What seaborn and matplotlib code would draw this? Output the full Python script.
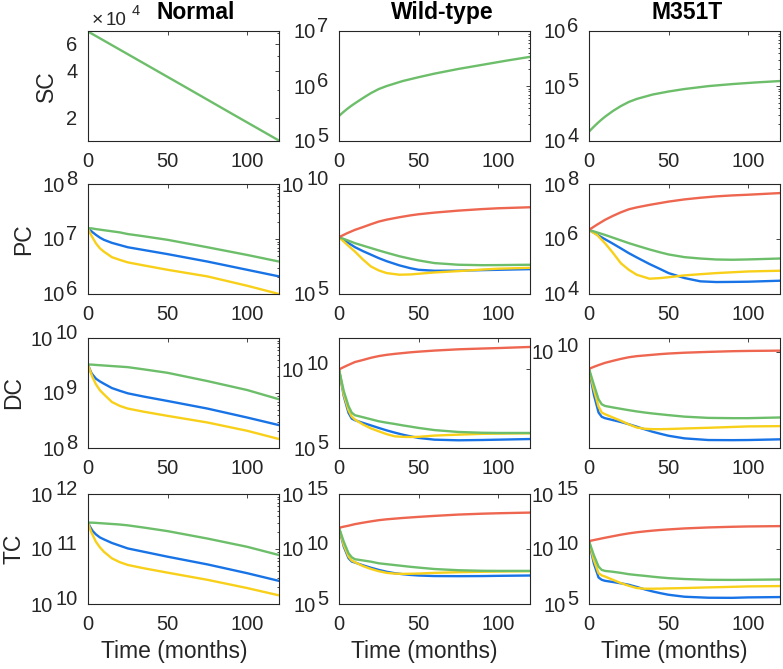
import numpy as np
import pandas as pd
import matplotlib
matplotlib.use("Agg")
import matplotlib.pyplot as plt
import matplotlib.ticker as mticker
from matplotlib.transforms import offset_copy, blended_transform_factory
import seaborn as sns

sns.set_theme(style="white")
plt.rcParams["font.family"] = ["Liberation Sans", "DejaVu Sans"]

# ---------------- data (log10 of cell counts) ----------------
col_titles = ["Normal", "Wild-type", "M351T"]
row_labels = ["SC", "PC", "DC", "TC"]
xlabel_text = "Time (months)"

# SC
sc_norm_t = [0, 30, 60, 90, 120]
sc_norm_green = [4.857, 4.681, 4.505, 4.328, 4.152]
sc_mut_t = [0, 2.5, 5, 7.5, 10, 15, 20, 25, 30, 40, 50, 60, 75, 90, 105, 120]
sc_wt_green = [5.455, 5.52, 5.58, 5.635, 5.685, 5.78, 5.87, 5.945, 6.00, 6.09, 6.16, 6.225, 6.31, 6.385, 6.46, 6.53]
sc_m_green = [4.17, 4.245, 4.315, 4.38, 4.44, 4.545, 4.635, 4.71, 4.765, 4.845, 4.90, 4.945, 4.998, 5.035, 5.065, 5.09]

# Normal column, PC/DC/TC
norm_t = [0, 1, 2, 3, 5, 7.5, 10, 15, 20, 25, 35, 50, 75, 100, 120]
pc_norm_green = [7.196, 7.195, 7.194, 7.19, 7.18, 7.17, 7.16, 7.14, 7.12, 7.09, 7.05, 6.985, 6.85, 6.71, 6.59]
pc_norm_blue = [7.196, 7.17, 7.145, 7.12, 7.075, 7.025, 6.985, 6.93, 6.89, 6.85, 6.80, 6.725, 6.59, 6.44, 6.32]
pc_norm_yellow = [7.196, 7.13, 7.07, 7.02, 6.92, 6.83, 6.77, 6.67, 6.62, 6.575, 6.52, 6.44, 6.32, 6.15, 6.0]

dc_norm_green = [9.518, 9.517, 9.516, 9.515, 9.51, 9.505, 9.50, 9.49, 9.48, 9.47, 9.43, 9.367, 9.217, 9.054, 8.886]
dc_norm_blue = [9.518, 9.44, 9.37, 9.33, 9.26, 9.21, 9.169, 9.09, 9.04, 8.994, 8.935, 8.855, 8.717, 8.554, 8.416]
dc_norm_yellow = [9.518, 9.43, 9.35, 9.277, 9.157, 9.05, 8.976, 8.837, 8.765, 8.717, 8.66, 8.584, 8.464, 8.313, 8.163]

tc_norm_green = [11.48, 11.48, 11.479, 11.478, 11.475, 11.47, 11.465, 11.455, 11.445, 11.43, 11.39, 11.325, 11.19, 11.04, 10.89]
tc_norm_blue = [11.48, 11.42, 11.37, 11.325, 11.265, 11.21, 11.175, 11.11, 11.06, 11.01, 10.95, 10.86, 10.72, 10.56, 10.42]
tc_norm_yellow = [11.48, 11.39, 11.31, 11.25, 11.13, 11.03, 10.95, 10.83, 10.76, 10.71, 10.65, 10.57, 10.44, 10.29, 10.157]

# PC mutants
pc_wt_t = [0, 5, 10, 15, 20, 25, 30, 38, 45, 50, 60, 75, 90, 100, 120]
pc_wt_red = [7.583, 7.76, 7.915, 8.04, 8.17, 8.293, 8.38, 8.49, 8.575, 8.625, 8.70, 8.79, 8.86, 8.897, 8.943]
pc_wt_green = [7.583, 7.45, 7.311, 7.20, 7.09, 6.98, 6.875, 6.715, 6.60, 6.526, 6.405, 6.33, 6.31, 6.314, 6.33]
pc_wt_blue = [7.583, 7.36, 7.13, 6.95, 6.79, 6.63, 6.49, 6.30, 6.17, 6.10, 6.057, 6.06, 6.085, 6.10, 6.13]
pc_wt_yellow = [7.583, 7.25, 6.93, 6.57, 6.254, 6.07, 5.95, 5.876, 5.89, 5.92, 5.98, 6.04, 6.11, 6.15, 6.19]

pc_m_t = [0, 5, 10, 15, 20, 25, 30, 38, 45, 50, 60, 70, 80, 90, 100, 120]
pc_m_red = [6.332, 6.52, 6.695, 6.84, 6.97, 7.08, 7.15, 7.24, 7.31, 7.36, 7.44, 7.50, 7.55, 7.585, 7.61, 7.67]
pc_m_green = [6.332, 6.24, 6.15, 6.05, 5.95, 5.85, 5.76, 5.62, 5.51, 5.438, 5.34, 5.29, 5.255, 5.245, 5.257, 5.29]
pc_m_blue = [6.332, 6.16, 5.994, 5.83, 5.66, 5.486, 5.33, 5.09, 4.90, 4.76, 4.58, 4.46, 4.435, 4.44, 4.447, 4.483]
pc_m_yellow = [6.332, 6.15, 5.85, 5.50, 5.12, 4.88, 4.70, 4.556, 4.58, 4.61, 4.677, 4.72, 4.76, 4.79, 4.82, 4.846]

# DC / TC mutants
dct_t = [0, 3, 6, 8, 10, 15, 20, 25, 30, 35, 40, 45, 50, 60, 75, 90, 100, 120]
dc_wt_red = [10.0, 10.15, 10.29, 10.38, 10.47, 10.60, 10.74, 10.85, 10.93, 10.99, 11.04, 11.09, 11.13, 11.20, 11.28, 11.33, 11.36, 11.43]
dc_wt_green = [10.0, 8.62, 7.66, 7.25, 7.085, 6.96, 6.83, 6.70, 6.61, 6.53, 6.44, 6.36, 6.277, 6.14, 6.02, 5.97, 5.957, 5.957]
dc_wt_blue = [10.0, 8.30, 7.23, 6.87, 6.77, 6.60, 6.44, 6.277, 6.12, 5.98, 5.85, 5.74, 5.64, 5.53, 5.49, 5.51, 5.53, 5.57]
dc_wt_yellow = [10.0, 8.40, 7.40, 7.0, 6.81, 6.50, 6.25, 6.06, 5.88, 5.745, 5.71, 5.70, 5.71, 5.79, 5.85, 5.90, 5.915, 5.936]

dc_m_red = [8.76, 8.90, 9.03, 9.11, 9.19, 9.34, 9.48, 9.60, 9.68, 9.73, 9.78, 9.83, 9.87, 9.93, 9.99, 10.04, 10.06, 10.08]
dc_m_green = [8.76, 7.63, 6.54, 6.18, 6.06, 5.95, 5.85, 5.75, 5.66, 5.58, 5.51, 5.45, 5.39, 5.28, 5.19, 5.17, 5.17, 5.22]
dc_m_yellow = [8.76, 7.27, 6.01, 5.58, 5.46, 5.22, 4.98, 4.72, 4.49, 4.40, 4.37, 4.37, 4.38, 4.42, 4.47, 4.53, 4.57, 4.59]
dc_m_blue = [8.76, 6.90, 5.58, 5.27, 5.17, 5.03, 4.89, 4.73, 4.55, 4.36, 4.18, 4.03, 3.89, 3.70, 3.58, 3.57, 3.58, 3.63]

tc_wt_red = [11.93, 12.03, 12.12, 12.19, 12.26, 12.39, 12.51, 12.62, 12.70, 12.76, 12.82, 12.87, 12.92, 13.01, 13.13, 13.21, 13.25, 13.31]
tc_wt_green = [11.93, 10.66, 9.61, 9.25, 9.07, 8.96, 8.85, 8.70, 8.62, 8.54, 8.46, 8.38, 8.31, 8.18, 8.07, 8.02, 8.01, 8.01]
tc_wt_blue = [11.93, 10.21, 9.16, 8.86, 8.77, 8.52, 8.30, 8.10, 7.93, 7.80, 7.71, 7.64, 7.59, 7.54, 7.53, 7.54, 7.56, 7.59]
tc_wt_yellow = [11.93, 10.36, 9.31, 8.95, 8.80, 8.45, 8.19, 7.98, 7.83, 7.76, 7.74, 7.75, 7.77, 7.83, 7.89, 7.93, 7.95, 7.98]

tc_m_red = [10.72, 10.81, 10.90, 10.96, 11.02, 11.16, 11.30, 11.42, 11.52, 11.60, 11.67, 11.73, 11.78, 11.87, 11.96, 12.02, 12.05, 12.08]
tc_m_green = [10.72, 9.46, 8.40, 8.10, 8.01, 7.93, 7.83, 7.71, 7.63, 7.56, 7.48, 7.41, 7.35, 7.27, 7.20, 7.19, 7.20, 7.23]
tc_m_yellow = [10.72, 9.01, 7.80, 7.60, 7.50, 7.20, 6.90, 6.66, 6.45, 6.39, 6.39, 6.40, 6.42, 6.45, 6.51, 6.56, 6.60, 6.63]
tc_m_blue = [10.72, 8.70, 7.41, 7.20, 7.11, 7.00, 6.88, 6.75, 6.55, 6.33, 6.14, 5.98, 5.84, 5.66, 5.57, 5.56, 5.60, 5.63]

# y-axis ranges and decade ticks per panel (row-major)
ylims = [(1.41e4, 7.25e4), (1e5, 1e7), (1e4, 1e6),
         (1e6, 1e8), (1e5, 1e10), (1e4, 1e8),
         (1e8, 1e10), (1e5, 1e12), (1e3, 1e11),
         (1e10, 1e12), (1e5, 1e15), (1e5, 1e15)]
ymajors = [None, [1e5, 1e6, 1e7], [1e4, 1e5, 1e6],
           [1e6, 1e7, 1e8], [1e5, 1e10], [1e4, 1e6, 1e8],
           [1e8, 1e9, 1e10], [1e5, 1e10], [1e10],
           [1e10, 1e11, 1e12], [1e5, 1e10, 1e15], [1e5, 1e10, 1e15]]
sc_norm_ticks = [2e4, 4e4, 6e4]
sc_norm_ticklabels = ["2", "4", "6"]
sc_norm_minor = [3e4, 5e4, 7e4]

# ---------------- style ----------------
RED = "#EE6650"
BLUE = "#1873E6"
YELLOW = "#F8D01A"
GREEN = "#6DBE6A"
DARK = "#262626"
LW = 1.7
FS_TICK = 14.5
FS_LAB = 16.5

W, H = 783, 669
fig = plt.figure(figsize=(W / 100, H / 100), dpi=100)

col_left_px = [88, 339, 589]
row_top_px = [31, 184, 338, 494]
ax_w_px, ax_h_px = 191, 110

panels = [
    [(sc_norm_t, [(sc_norm_green, GREEN)]),
     (sc_mut_t, [(sc_wt_green, GREEN)]),
     (sc_mut_t, [(sc_m_green, GREEN)])],
    [(norm_t, [(pc_norm_blue, BLUE), (pc_norm_yellow, YELLOW), (pc_norm_green, GREEN)]),
     (pc_wt_t, [(pc_wt_blue, BLUE), (pc_wt_yellow, YELLOW), (pc_wt_green, GREEN), (pc_wt_red, RED)]),
     (pc_m_t, [(pc_m_blue, BLUE), (pc_m_yellow, YELLOW), (pc_m_green, GREEN), (pc_m_red, RED)])],
    [(norm_t, [(dc_norm_blue, BLUE), (dc_norm_yellow, YELLOW), (dc_norm_green, GREEN)]),
     (dct_t, [(dc_wt_blue, BLUE), (dc_wt_yellow, YELLOW), (dc_wt_green, GREEN), (dc_wt_red, RED)]),
     (dct_t, [(dc_m_blue, BLUE), (dc_m_yellow, YELLOW), (dc_m_green, GREEN), (dc_m_red, RED)])],
    [(norm_t, [(tc_norm_blue, BLUE), (tc_norm_yellow, YELLOW), (tc_norm_green, GREEN)]),
     (dct_t, [(tc_wt_blue, BLUE), (tc_wt_yellow, YELLOW), (tc_wt_green, GREEN), (tc_wt_red, RED)]),
     (dct_t, [(tc_m_blue, BLUE), (tc_m_yellow, YELLOW), (tc_m_green, GREEN), (tc_m_red, RED)])],
]


def minor_ticks(lo, hi):
    out = []
    for n in range(int(np.floor(np.log10(lo))), int(np.ceil(np.log10(hi))) + 1):
        for k in range(2, 10):
            v = k * 10.0 ** n
            if lo < v < hi:
                out.append(v)
    return out


def exp_label(ax, val):
    e = int(round(np.log10(val)))
    trans = blended_transform_factory(ax.transAxes, ax.transData)
    gap = 7.5
    ndig = len(str(e))
    digw = 0.556 * FS_TICK
    t_exp = offset_copy(trans, fig=fig, x=-gap, y=5.0, units="points")
    ax.text(0, val, str(e), transform=t_exp, ha="right", va="center_baseline",
            fontsize=FS_TICK, color=DARK, clip_on=False)
    t_base = offset_copy(trans, fig=fig, x=-gap - ndig * digw - 1.5, y=0, units="points")
    ax.text(0, val, "10", transform=t_base, ha="right", va="center_baseline",
            fontsize=FS_TICK, color=DARK, clip_on=False)


for r in range(4):
    for c in range(3):
        idx = r * 3 + c
        left = col_left_px[c] / W
        bottom = 1 - (row_top_px[r] + ax_h_px) / H
        ax = fig.add_axes([left, bottom, ax_w_px / W, ax_h_px / H])
        t, series = panels[r][c]
        for logvals, color in series:
            df = pd.DataFrame({"t": t, "v": 10.0 ** np.asarray(logvals)})
            sns.lineplot(data=df, x="t", y="v", ax=ax, color=color, lw=LW,
                         estimator=None, sort=False)
        ax.set_yscale("log")
        ax.set_xlim(0, 120)
        ax.set_ylim(*ylims[idx])
        ax.set_xticks([0, 50, 100])
        ax.set_xlabel("")
        ax.set_ylabel("")
        ax.tick_params(axis="both", which="both", direction="in", top=True, right=True,
                       colors=DARK, labelsize=FS_TICK, width=0.6)
        ax.tick_params(axis="both", which="major", length=3.0)
        ax.tick_params(axis="both", which="minor", length=1.6)
        ax.tick_params(axis="x", pad=8)
        ax.tick_params(axis="y", pad=7.5)
        for sp in ax.spines.values():
            sp.set_color(DARK)
            sp.set_linewidth(0.8)
        lo, hi = ylims[idx]
        if idx == 0:
            ax.yaxis.set_major_locator(mticker.FixedLocator(sc_norm_ticks))
            ax.yaxis.set_major_formatter(mticker.FixedFormatter(sc_norm_ticklabels))
            ax.yaxis.set_minor_locator(mticker.FixedLocator(sc_norm_minor))
            ax.yaxis.set_minor_formatter(mticker.NullFormatter())
            tr0 = offset_copy(ax.transAxes, fig=fig, x=2.5, y=4.3, units="points")
            ax.text(0, 1, "×", transform=tr0, ha="left", va="baseline",
                    fontsize=14, color=DARK, clip_on=False)
            tr1 = offset_copy(ax.transAxes, fig=fig, x=13.0, y=4.3, units="points")
            ax.text(0, 1, "10", transform=tr1, ha="left", va="baseline",
                    fontsize=13.5, color=DARK, clip_on=False)
            tr2 = offset_copy(ax.transAxes, fig=fig, x=31.5, y=11.5, units="points")
            ax.text(0, 1, "4", transform=tr2, ha="left", va="baseline",
                    fontsize=10.5, color=DARK, clip_on=False)
        else:
            majors = ymajors[idx]
            ax.yaxis.set_major_locator(mticker.FixedLocator(majors))
            ax.yaxis.set_major_formatter(mticker.NullFormatter())
            if np.log10(hi / lo) <= 2.01:
                ax.yaxis.set_minor_locator(mticker.FixedLocator(minor_ticks(lo, hi)))
            else:
                ax.yaxis.set_minor_locator(mticker.NullLocator())
            ax.yaxis.set_minor_formatter(mticker.NullFormatter())
            for m in majors:
                exp_label(ax, m)

# column titles
title_x_px = [196, 442, 687]
for x, s in zip(title_x_px, col_titles):
    fig.text(x / W, (H - 19) / H, s, ha="center", va="baseline",
             fontsize=FS_LAB, fontweight="bold", color="black")

# row labels
row_label_x_px = [46, 24, 14, 14]
for r, s in enumerate(row_labels):
    yc = row_top_px[r] + ax_h_px / 2
    fig.text(row_label_x_px[r] / W, 1 - yc / H, s, rotation=90, ha="center", va="center",
             fontsize=FS_LAB, color=DARK)

# x labels
xlabel_x_px = [174, 424, 674]
for x in xlabel_x_px:
    fig.text(x / W, 11 / H, xlabel_text, ha="center", va="baseline",
             fontsize=FS_LAB, color=DARK)

fig.savefig("out.png", dpi=100, facecolor="white")
